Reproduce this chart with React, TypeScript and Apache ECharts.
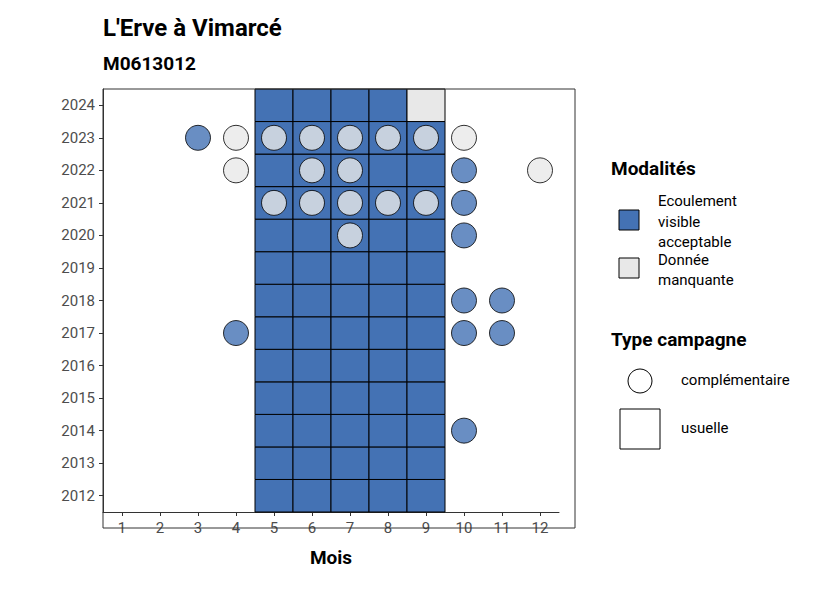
import * as echarts from 'echarts';
import { useEffect, useRef } from 'react';

const months = ['1', '2', '3', '4', '5', '6', '7', '8', '9', '10', '11', '12'];
const years = ['2012', '2013', '2014', '2015', '2016', '2017', '2018', '2019', '2020', '2021', '2022', '2023', '2024'];

const BLUE = '#4472B4';
const GREY = '#E8E8E8';
const FONT = 'Roboto';

// usual campaigns (tiles): [month, year, modality]
const usualMonths = ['5', '6', '7', '8', '9'];
const usualMissing: [string, string][] = [['9', '2024']];

// complementary campaigns (circles): [month, year, modality]
const complementary: [string, string, 'ok' | 'na'][] = [
  ['3', '2023', 'ok'], ['4', '2023', 'na'], ['5', '2023', 'na'], ['6', '2023', 'na'],
  ['7', '2023', 'na'], ['8', '2023', 'na'], ['9', '2023', 'na'], ['10', '2023', 'na'],
  ['4', '2022', 'na'], ['6', '2022', 'na'], ['7', '2022', 'na'], ['10', '2022', 'ok'], ['12', '2022', 'na'],
  ['5', '2021', 'na'], ['6', '2021', 'na'], ['7', '2021', 'na'], ['8', '2021', 'na'], ['9', '2021', 'na'], ['10', '2021', 'ok'],
  ['7', '2020', 'na'], ['10', '2020', 'ok'],
  ['10', '2018', 'ok'], ['11', '2018', 'ok'],
  ['4', '2017', 'ok'], ['10', '2017', 'ok'], ['11', '2017', 'ok'],
  ['10', '2014', 'ok'],
];

export default function App() {
  const ref = useRef<HTMLDivElement>(null);

  useEffect(() => {
    if (!ref.current) return;
    const chart = echarts.init(ref.current, undefined, { renderer: 'svg' });

    const tiles: any[] = [];
    years.forEach((y) =>
      usualMonths.forEach((m) => {
        const na = usualMissing.some(([mm, yy]) => mm === m && yy === y);
        tiles.push({ value: [m, y], itemStyle: { color: na ? GREY : BLUE } });
      })
    );

    const axisLabel = { color: '#4d4d4d', fontSize: 15, fontFamily: FONT };
    const axisLine = { show: true, lineStyle: { color: '#333', width: 1 } };

    chart.setOption({
      animation: false,
      textStyle: { fontFamily: FONT },
      grid: { left: 95, right: 259, top: 81, bottom: 70 },
      xAxis: {
        type: 'category',
        data: months,
        name: 'Mois',
        nameLocation: 'middle',
        nameGap: 36,
        nameTextStyle: { fontSize: 19, fontWeight: 'bold', color: '#000', fontFamily: FONT },
        axisLine,
        axisTick: { show: true, alignWithLabel: true, length: 4, lineStyle: { color: '#333' } },
        axisLabel,
        splitLine: { show: false },
      },
      yAxis: {
        type: 'category',
        data: years,
        axisLine,
        axisTick: { show: true, alignWithLabel: true, length: 4, lineStyle: { color: '#333' } },
        axisLabel,
        splitLine: { show: false },
      },
      series: [
        {
          type: 'custom',
          data: tiles,
          renderItem: (params: any, api: any) => {
            const c = api.coord([api.value(0), api.value(1)]);
            const s = api.size([1, 1]);
            return {
              type: 'rect',
              shape: { x: c[0] - s[0] / 2, y: c[1] - s[1] / 2, width: s[0], height: s[1] },
              style: { fill: api.visual('color'), stroke: '#000', lineWidth: 1 },
            };
          },
          z: 1,
        },
        {
          type: 'scatter',
          symbol: 'circle',
          symbolSize: 25,
          data: complementary.map(([m, y, k]) => ({
            value: [m, y],
            itemStyle: { color: k === 'ok' ? BLUE : GREY, borderColor: '#000', borderWidth: 1 },
          })),
          z: 3,
        },
      ],
      graphic: [
        { type: 'rect', shape: { x: 95, y: 81, width: 472, height: 439 }, style: { fill: 'none', stroke: '#333', lineWidth: 1 }, z: 10 },
        { type: 'text', left: 95, top: 8, style: { text: "L'Erve à Vimarcé", fontSize: 24, fontWeight: 'bold', fill: '#000', fontFamily: FONT } },
        { type: 'text', left: 95, top: 46, style: { text: 'M0613012', fontSize: 19, fontWeight: 'bold', fill: '#000', fontFamily: FONT } },
        { type: 'text', left: 603, top: 151, style: { text: 'Modalités', fontSize: 19, fontWeight: 'bold', fill: '#000', fontFamily: FONT } },
        { type: 'rect', shape: { x: 611, y: 202, width: 20, height: 20 }, style: { fill: BLUE, stroke: '#000', lineWidth: 1 } },
        { type: 'rect', shape: { x: 611, y: 250, width: 20, height: 20 }, style: { fill: GREY, stroke: '#000', lineWidth: 1 } },
        { type: 'text', left: 650, top: 183, style: { text: 'Ecoulement\nvisible\nacceptable', fontSize: 15, lineHeight: 20.5, fill: '#000', fontFamily: FONT } },
        { type: 'text', left: 650, top: 242, style: { text: 'Donnée\nmanquante', fontSize: 15, lineHeight: 20, fill: '#000', fontFamily: FONT } },
        { type: 'text', left: 603, top: 322, style: { text: 'Type campagne', fontSize: 19, fontWeight: 'bold', fill: '#000', fontFamily: FONT } },
        { type: 'circle', shape: { cx: 632, cy: 373, r: 12 }, style: { fill: '#fff', stroke: '#000', lineWidth: 1 } },
        { type: 'text', left: 673, top: 364, style: { text: 'complémentaire', fontSize: 15, fill: '#000', fontFamily: FONT } },
        { type: 'rect', shape: { x: 612, y: 401, width: 40, height: 40 }, style: { fill: '#fff', stroke: '#000', lineWidth: 1 } },
        { type: 'text', left: 673, top: 412, style: { text: 'usuelle', fontSize: 15, fill: '#000', fontFamily: FONT } },
      ],
    });

    return () => chart.dispose();
  }, []);

  return <div ref={ref} style={{ width: 810, height: 574 }} />;
}
